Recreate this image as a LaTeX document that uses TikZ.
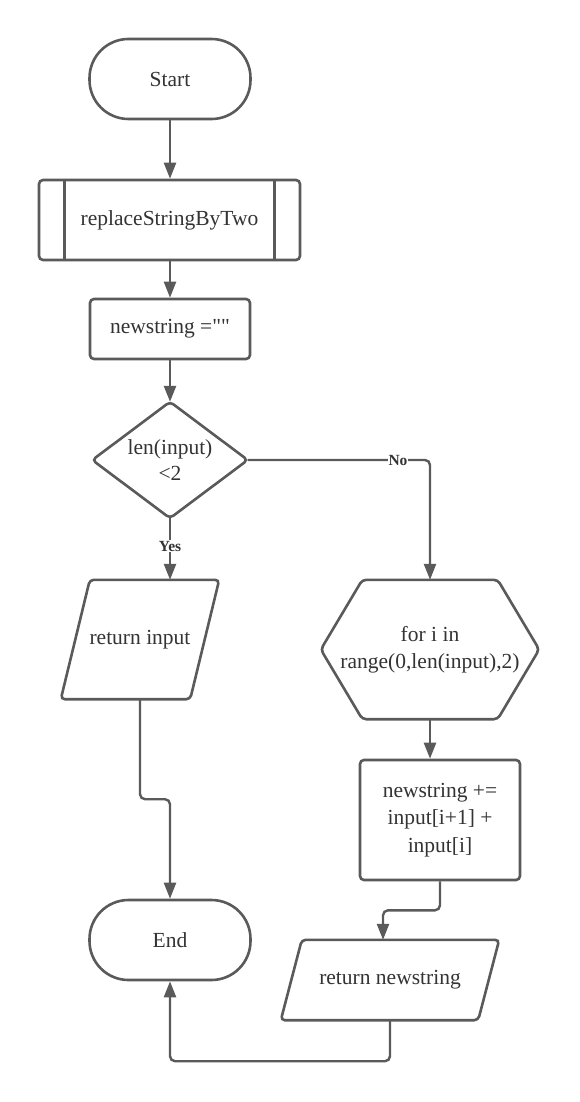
\documentclass[tikz,border=0pt]{standalone}
\usepackage{fontspec}
\setmainfont{Liberation Serif}[Ligatures=TeXOff]
\usetikzlibrary{arrows.meta,calc}
\definecolor{edge}{HTML}{5A5A5A}
\definecolor{ink}{HTML}{333333}
\begin{document}
\begin{tikzpicture}[x=1pt,y=-1pt,
  every node/.style={text=ink, font=\fontsize{21.5}{27.5}\selectfont, align=center, inner sep=0pt},
  outline/.style={draw=edge, line width=2.6pt, rounded corners=4pt},
  terminal/.style={outline, rectangle, rounded corners=39pt, minimum width=161pt, minimum height=80pt},
  procbox/.style={outline, rectangle},
  frame/.style={rectangle},
  link/.style={draw=edge, line width=2.4pt, rounded corners=5pt, -{Triangle[length=16pt,width=12pt]}},
  branch/.style={fill=white, font=\bfseries\fontsize{15.5}{18}\selectfont, inner sep=1pt}
]
\fill[white] (0,0) rectangle (580,1102);
\useasboundingbox (0,0) rectangle (580,1102);

% --- nodes ---
\node[terminal] (start) at (170,79) {Start};
\node[procbox, minimum width=261pt, minimum height=80pt] (sub) at (169.5,220) {replaceStringByTwo};
\draw[draw=edge, line width=2.6pt] ($(sub.north west)+(27,0)$) -- ($(sub.south west)+(27,0)$);
\draw[draw=edge, line width=2.6pt] ($(sub.north east)+(-27,0)$) -- ($(sub.south east)+(-27,0)$);
\node[procbox, minimum width=160pt, minimum height=60pt] (init) at (170,329) {newstring =""};

% decision diamond
\node[frame, minimum width=155pt, minimum height=116pt] (dec) at (170,460) {len(input)\\[-2pt]<2};
\draw[outline] (dec.north) -- (dec.east) -- (dec.south) -- (dec.west) -- cycle;

% output: return input
\node[frame, minimum width=158pt, minimum height=119pt] (retin) at (140,639.5) {return input};
\draw[outline] ($(retin.north west)+(29,0)$) -- (retin.north east)
  -- ($(retin.south east)+(-29,0)$) -- (retin.south west) -- cycle;

% loop hexagon
\node[frame, minimum width=218pt, minimum height=139pt] (hex) at (430,649.5) {for i in\\range(0,len(input),2)};
\draw[outline] ($(hex.north west)+(41.5,0)$) -- ($(hex.north east)+(-41.5,0)$) -- (hex.east)
  -- ($(hex.south east)+(-41.5,0)$) -- ($(hex.south west)+(41.5,0)$) -- (hex.west) -- cycle;

% loop body
\node[procbox, minimum width=160pt, minimum height=120pt] (body) at (440,820) {newstring +=\\input[i+1] +\\input[i]};

% output: return newstring
\node[frame, minimum width=218pt, minimum height=80pt] (retns) at (390,980) {return newstring};
\draw[outline] ($(retns.north west)+(21,0)$) -- (retns.north east)
  -- ($(retns.south east)+(-21,0)$) -- (retns.south west) -- cycle;

\node[terminal] (end) at (170,940) {End};

% --- connectors ---
\draw[link] (start.south) -- (sub.north -| start.south);
\draw[link] (sub.south -| init.north) -- (init.north);
\draw[link] (init.south) -- (dec.north);
\draw[link] (dec.east) -| (hex.north);
\draw[link] (dec.south) -- (dec.south |- retin.north);
\coordinate (retinbend) at ($(retin.south)+(0,100)$);
\draw[link] (retin.south) -- (retinbend) -| (end.north);
\draw[link] (hex.south) -- (hex.south |- body.north);
\coordinate (bodybend) at ($(body.south)+(0,29)$);
\coordinate (retnsin) at ($(retns.north)+(-7,0)$);
\draw[link] (body.south) -- (bodybend) -| (retnsin);
\coordinate (retnsbend) at ($(retns.south)+(0,41)$);
\draw[link] (retns.south) -- (retnsbend) -| (end.south);

% branch labels
\node[branch] (no) at (398,460) {No};
\node[branch] (yes) at (170,546) {Yes};
\end{tikzpicture}
\end{document}
